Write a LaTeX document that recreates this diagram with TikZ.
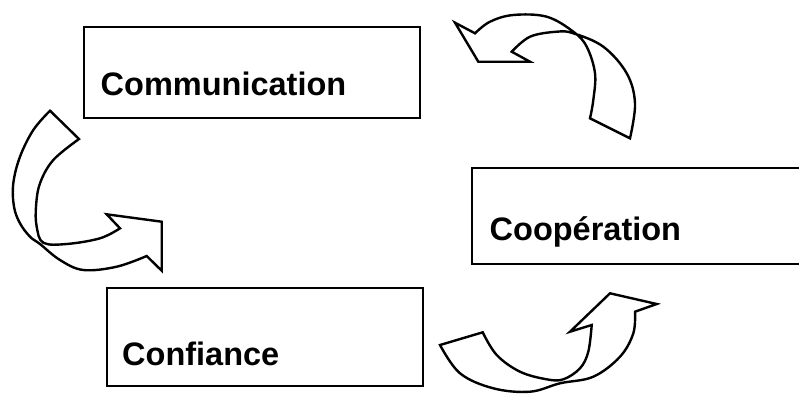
\documentclass[tikz,border=0pt]{standalone}
\usepackage{fontspec}
\setmainfont{Liberation Sans}
\begin{document}
\begin{tikzpicture}[x=1pt,y=-1pt,
  box/.style={draw=black,line width=2.1pt,rectangle,inner sep=0pt,anchor=north west},
  lbl/.style={inner sep=0pt,anchor=base west,font=\fontsize{32.5}{36}\selectfont\bfseries},
  blockarrow/.style={draw=black,fill=white,line width=2.4pt,line join=miter}]
\useasboundingbox (0,0) rectangle (799,394);
% boxes
\node[box,minimum width=336pt,minimum height=91pt] (comm) at (82.7,25.7) {};
\node[box,minimum width=340pt,minimum height=95.7pt] (coop) at (470.7,167.3) {};
\node[box,minimum width=316pt,minimum height=98.3pt] (conf) at (105.7,286.7) {};
\node[lbl] (tcomm) at (100.5,95) {Communication};
\node[lbl] (tcoop) at (489.5,240) {Coopération};
\node[lbl] (tconf) at (122,365) {Confiance};
% arrow Communication -> Confiance
\draw[blockarrow] (50,110.7) -- plot[smooth,tension=0.6] coordinates {(50,110.7) (33.3,130) (20,156.7) (13.3,183.3) (14,206.7) (20,223.3) (30,236.7) (40,244) (60,260) (83.3,270) (116.7,266.7) (146.7,256)}
  -- (161.7,270.7) -- (161.7,221.7) -- (106.7,214.3) -- (120,228.3)
  -- plot[smooth,tension=0.6] coordinates {(120,228.3) (100,238.3) (66.7,244) (43.3,242.7) (36.7,226.7) (36,206.7) (40,183.3) (53.3,160) (79,139)}
  -- cycle;
% arrow Coopération -> Communication
\draw[blockarrow] (475,33.3) -- (455,22.7) -- (478.3,61.7) -- (530,61.7) -- (511.7,51.7)
  -- plot[smooth,tension=0.6] coordinates {(511.7,51.7) (530,36.7) (556.7,31.7) (573.3,33.3) (603.3,46.7) (626.7,73.3) (635,103.3) (630,138.3)}
  -- (590,118.3)
  -- plot[smooth,tension=0.6] coordinates {(590,118.3) (593.3,100) (595,73.3) (586.7,46.7) (573.3,31.7) (546.7,16.7) (513.3,15) (490,21.7) (475,33.3)}
  -- cycle;
% arrow Confiance -> Coopération
\draw[blockarrow] (440,345) -- (482.7,332.3)
  -- plot[smooth,tension=0.6] coordinates {(482.7,332.3) (496.7,355) (520,371.7) (546.7,379.3) (563.3,379.3) (580,368.3) (588.3,351.7) (591.7,325)}
  -- (570,331.7) -- (610,293.3) -- (656.7,304) -- (635,311.7)
  -- plot[smooth,tension=0.6] coordinates {(635,311.7) (633.3,333.3) (620,356.7) (593.3,376.7) (560,383.3) (530,391.7) (493.3,388.3) (460,373.3) (440,345)}
  -- cycle;
\end{tikzpicture}
\end{document}
